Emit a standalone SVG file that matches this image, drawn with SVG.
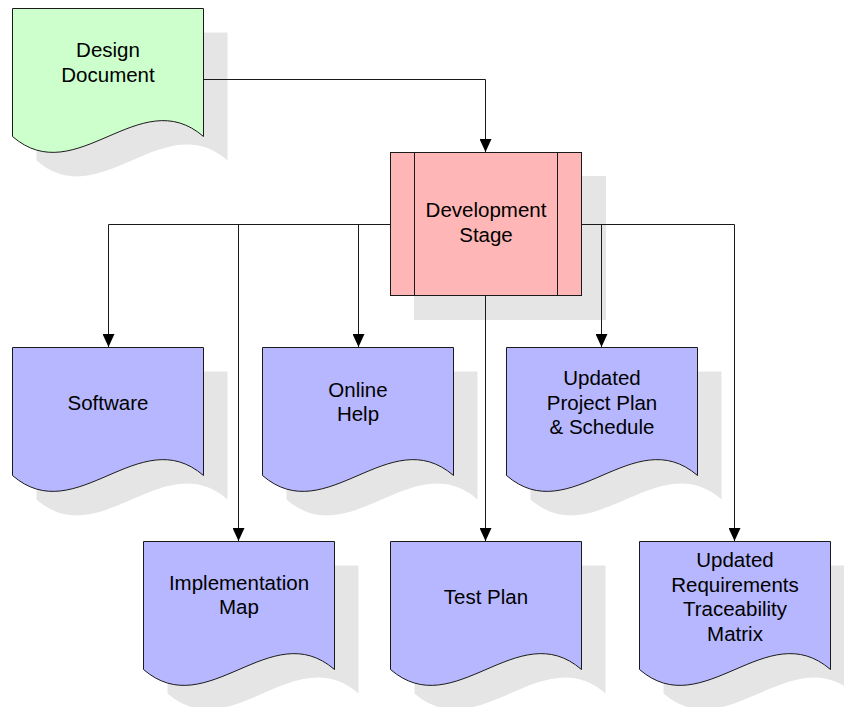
<svg xmlns="http://www.w3.org/2000/svg" width="844" height="707" viewBox="0 0 844 707">
<defs>
<style>
.sh{fill:#e5e5e5;stroke:none}
.doc{stroke:#1a1a1a;stroke-width:1}
.g{fill:#ccffcc}
.b{fill:#b7b7ff}
.p{fill:#ffb6b6;stroke:#1a1a1a;stroke-width:1}
.t{font-family:"Liberation Sans",Arial,sans-serif;font-size:20.5px;fill:#000;text-anchor:middle}
.c{fill:none;stroke:#1a1a1a;stroke-width:1}
.a{marker-end:url(#arr)}
</style>
<marker id="arr" markerUnits="userSpaceOnUse" viewBox="0 0 13 12" refX="13" refY="6" markerWidth="13" markerHeight="12" orient="auto">
<path d="M0,0 L13,6 L0,12 Z" fill="#000"/>
</marker>
<path id="docshape" d="M0,0 H191 V128 C127.3,73 63.7,183 0,128 Z"/>
</defs>
<g id="design-document">
<use href="#docshape" class="sh" transform="translate(36.5,32.5)"/>
<use href="#docshape" class="doc g" transform="translate(12.5,8.5)"/>
<text class="t" x="108" y="57">Design</text>
<text class="t" x="108" y="82">Document</text>
</g>
<g id="development-stage">
<rect class="sh" x="414" y="176" width="192" height="144"/>
<rect class="p" x="390.5" y="152.5" width="191" height="143"/>
<line class="c" x1="414.5" y1="152.5" x2="414.5" y2="295.5"/>
<line class="c" x1="557.5" y1="152.5" x2="557.5" y2="295.5"/>
<text class="t" x="486" y="217">Development</text>
<text class="t" x="486" y="241.5">Stage</text>
</g>
<g id="software">
<use href="#docshape" class="sh" transform="translate(36.5,371.5)"/>
<use href="#docshape" class="doc b" transform="translate(12.5,347.5)"/>
<text class="t" x="108" y="410">Software</text>
</g>
<g id="online-help">
<use href="#docshape" class="sh" transform="translate(286.5,371.5)"/>
<use href="#docshape" class="doc b" transform="translate(262.5,347.5)"/>
<text class="t" x="358" y="397">Online</text>
<text class="t" x="358" y="421">Help</text>
</g>
<g id="updated-project-plan">
<use href="#docshape" class="sh" transform="translate(530.5,371.5)"/>
<use href="#docshape" class="doc b" transform="translate(506.5,347.5)"/>
<text class="t" x="602" y="385">Updated</text>
<text class="t" x="602" y="409.5">Project Plan</text>
<text class="t" x="602" y="434">&amp; Schedule</text>
</g>
<g id="implementation-map">
<use href="#docshape" class="sh" transform="translate(167.5,565.5)"/>
<use href="#docshape" class="doc b" transform="translate(143.5,541.5)"/>
<text class="t" x="239" y="590">Implementation</text>
<text class="t" x="239" y="614">Map</text>
</g>
<g id="test-plan">
<use href="#docshape" class="sh" transform="translate(414.5,565.5)"/>
<use href="#docshape" class="doc b" transform="translate(390.5,541.5)"/>
<text class="t" x="486" y="604">Test Plan</text>
</g>
<g id="updated-requirements">
<use href="#docshape" class="sh" transform="translate(663.5,565.5)"/>
<use href="#docshape" class="doc b" transform="translate(639.5,541.5)"/>
<text class="t" x="735" y="567">Updated</text>
<text class="t" x="735" y="591.5">Requirements</text>
<text class="t" x="735" y="616">Traceability</text>
<text class="t" x="735" y="640.5">Matrix</text>
</g>
<g id="connectors">
<path class="c a" d="M203.5,79.5 H485.5 V152"/>
<path class="c a" d="M390.5,224.5 H108.5 V347"/>
<path class="c a" d="M238.5,224.5 V541"/>
<path class="c a" d="M358.5,224.5 V347"/>
<path class="c a" d="M485.5,296 V541"/>
<path class="c a" d="M581.5,224.5 H734.5 V541"/>
<path class="c a" d="M601.5,224.5 V347"/>
</g>
</svg>
